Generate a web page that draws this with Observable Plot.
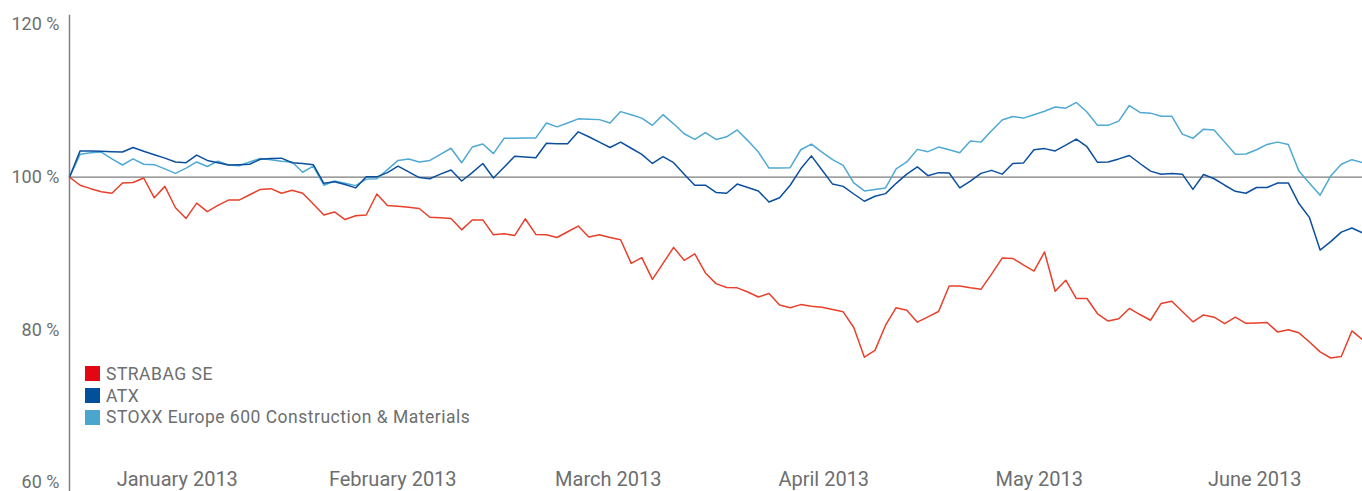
<!DOCTYPE html>
<html><head><meta charset="utf-8">
<script src="https://cdn.jsdelivr.net/npm/d3@7"></script>
<script src="https://cdn.jsdelivr.net/npm/@observablehq/plot@0.6"></script>
<style>
body{margin:0;background:#fff;}
#wrap{position:relative;width:1362px;height:491px;overflow:hidden;font-family:Roboto,sans-serif;}
.legend{position:absolute;left:85px;top:363px;color:#6d6e70;font-size:17.5px;letter-spacing:0.5px;font-family:Roboto,sans-serif;}
.legend .row{display:flex;align-items:center;height:21.7px;}
.legend .sw{width:15px;height:15px;margin-right:6px;display:inline-block;}
</style></head><body>
<div id="wrap"></div>
<script>
const months = ["January 2013","February 2013","March 2013","April 2013","May 2013","June 2013"];
const seriesNames = ["STRABAG SE","ATX","STOXX Europe 600 Construction & Materials"];
const lineColors = ["#e8402a","#0b4f9e","#4fa9d2"];
const legendColors = ["#e30613","#00509b","#4aa6cf"];
const yTicks = [60,80,100,120];

const strabag = [100,98.95,98.5,98.1,97.9,99.25,99.3,99.9,97.3,98.8,
 96.0,94.6,96.6,95.5,96.3,97.0,97.0,97.7,98.4,98.5,
 97.9,98.3,97.9,96.5,95.05,95.45,94.45,94.95,95.05,97.8,
 96.3,96.2,96.05,95.9,94.75,94.7,94.6,93.1,94.4,94.4,
 92.45,92.6,92.35,94.55,92.5,92.45,92.1,92.85,93.6,92.15,
 92.45,92.1,91.8,88.7,89.45,86.6,88.7,90.8,89.1,89.95,
 87.45,86.05,85.55,85.5,84.95,84.3,84.75,83.25,82.9,83.3,
 83.1,82.95,82.65,82.35,80.3,76.4,77.3,80.6,82.9,82.55,
 81.0,81.7,82.4,85.75,85.75,85.5,85.3,87.3,89.4,89.35,
 88.5,87.7,90.2,85.05,86.5,84.1,84.1,82.1,81.15,81.45,
 82.8,82.0,81.25,83.45,83.75,82.4,81.05,81.95,81.65,80.8,
 81.65,80.85,80.9,80.95,79.7,80.0,79.6,78.4,77.1,76.3,
 76.5,79.85,78.7];

const atx = [100,103.45,103.45,103.4,103.35,103.3,103.9,103.4,102.95,102.5,
 102.0,101.9,102.9,102.2,101.9,101.6,101.65,101.7,102.35,102.45,
 102.5,101.9,101.8,101.65,99.2,99.4,99.05,98.6,100.05,100.05,
 100.6,101.45,100.7,99.95,99.8,100.4,100.95,99.5,100.6,101.8,
 99.9,101.3,102.75,102.65,102.55,104.45,104.4,104.4,105.95,105.3,
 104.6,103.9,104.6,103.8,103.0,101.8,102.7,101.9,100.4,98.95,
 98.95,98.0,97.9,99.1,98.65,98.2,96.75,97.3,98.95,101.1,
 102.8,100.95,99.1,98.8,97.8,96.85,97.5,97.85,99.2,100.4,
 101.35,100.2,100.6,100.55,98.6,99.5,100.5,100.9,100.4,101.8,
 101.85,103.6,103.75,103.45,104.2,105.0,104.0,101.95,102.0,102.4,
 102.85,101.8,100.8,100.4,100.5,100.4,98.4,100.35,99.8,98.95,
 98.15,97.9,98.65,98.65,99.25,99.25,96.55,94.7,90.45,91.55,
 92.8,93.35,92.7];

const stoxx = [100,103.0,103.2,103.3,102.4,101.6,102.4,101.7,101.65,101.1,
 100.5,101.2,102.0,101.4,102.1,101.6,101.5,102.0,102.45,102.3,
 102.1,102.0,100.65,101.45,98.95,99.5,99.2,98.9,99.75,99.8,
 101.0,102.2,102.4,102.0,102.2,103.0,103.8,101.9,103.95,104.35,
 103.1,105.1,105.12,105.14,105.15,107.1,106.6,107.1,107.65,107.6,
 107.55,107.1,108.6,108.2,107.75,106.8,108.2,107.0,105.7,104.95,
 105.85,104.95,105.3,106.2,104.8,103.3,101.2,101.2,101.25,103.6,
 104.35,103.3,102.3,101.55,99.25,98.2,98.4,98.6,101.1,102.0,
 103.65,103.35,103.95,103.6,103.2,104.75,104.6,106.1,107.5,107.95,
 107.75,108.2,108.65,109.2,109.05,109.8,108.55,106.8,106.8,107.35,
 109.4,108.5,108.4,108.0,108.0,105.65,105.1,106.3,106.2,104.6,
 103.0,103.05,103.6,104.3,104.6,104.3,100.8,99.2,97.65,100.15,
 101.7,102.3,101.9];

const values = [strabag, atx, stoxx];
const n = strabag.length;
// draw order: STOXX, ATX, STRABAG on top
const drawOrder = [2,1,0];
const table = drawOrder.flatMap(s => values[s].map((v,i) => ({i, v, name: seriesNames[s]})));
const monthTable = months.map((m, k) => ({m, x: (k + 0.5) * (n - 1) / months.length}));

const textColor = "#6d6e70";
const chart = Plot.plot({
  width: 1362,
  height: 491,
  marginLeft: 69,
  marginRight: 0,
  marginTop: 15,
  marginBottom: 0,
  style: {fontFamily: "Roboto, sans-serif", color: textColor, background: "#fff", overflow: "visible"},
  x: {domain: [0, n - 1], axis: null},
  y: {domain: [58.8, 121.2], axis: null},
  color: {domain: seriesNames, range: lineColors},
  marks: [
    Plot.axisY(yTicks, {tickSize: 0, tickPadding: 10, tickFormat: d => d + " %", fontSize: 18, fill: textColor, label: null}),
    Plot.ruleY([100], {stroke: "#7c7c7c", strokeWidth: 1.2}),
    Plot.frame({anchor: "left", stroke: "#808080", strokeWidth: 1.5}),
    Plot.line(table, {x: "i", y: "v", z: "name", stroke: "name", strokeWidth: 1.5}),
    Plot.text(monthTable, {x: "x", frameAnchor: "bottom", dy: -12, lineAnchor: "middle", text: "m", fontSize: 20, fill: textColor, style: "letter-spacing:0.3px"})
  ]
});
const wrap = document.getElementById("wrap");
wrap.appendChild(chart);
const leg = document.createElement("div");
leg.className = "legend";
seriesNames.forEach((name, s) => {
  const row = document.createElement("div");
  row.className = "row";
  const sw = document.createElement("span");
  sw.className = "sw";
  sw.style.background = legendColors[s];
  const t = document.createElement("span");
  t.textContent = name;
  row.appendChild(sw); row.appendChild(t);
  leg.appendChild(row);
});
wrap.appendChild(leg);
</script>
</body></html>
